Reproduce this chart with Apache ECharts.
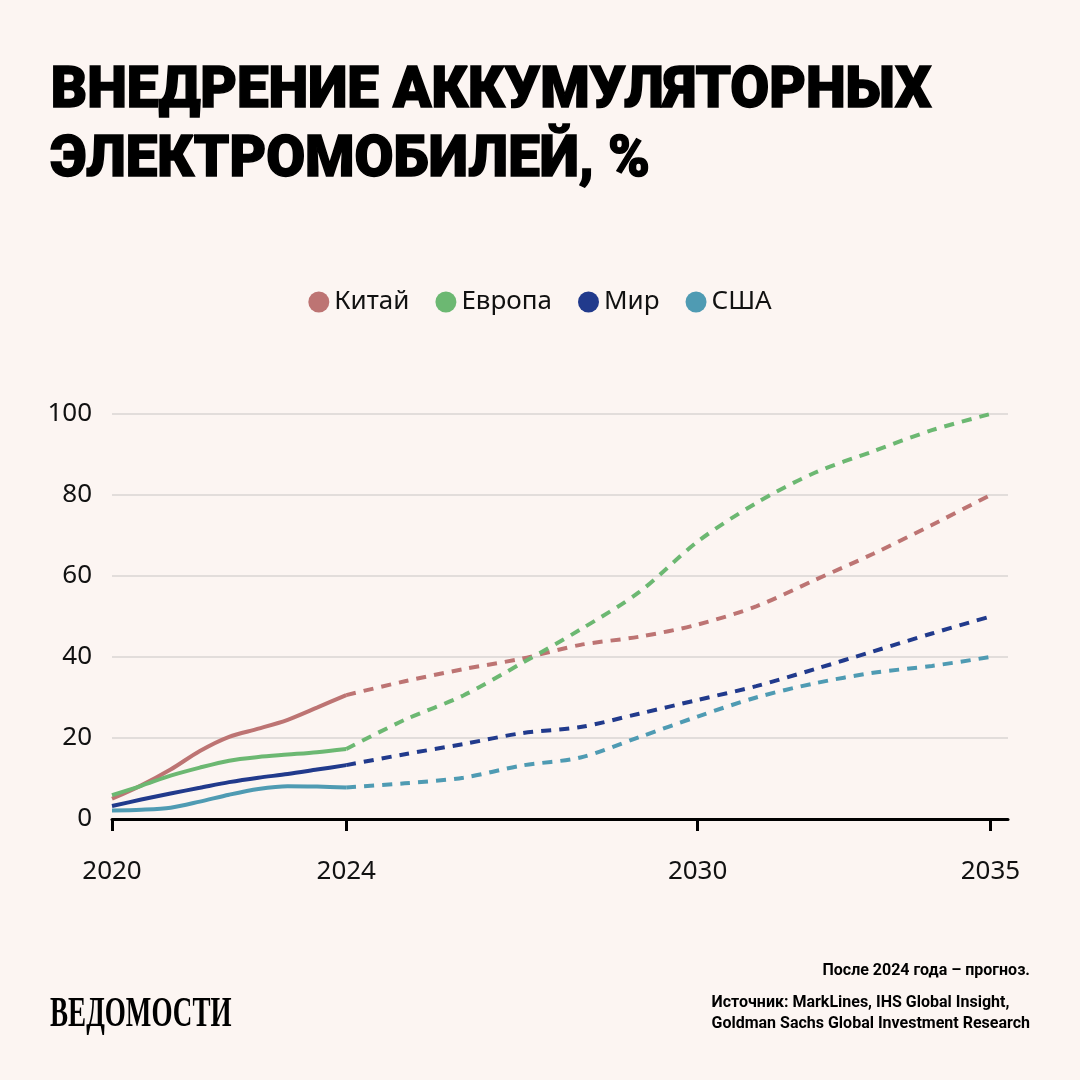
<!DOCTYPE html>
<html>
<head>
<meta charset="utf-8">
<script src="https://cdn.jsdelivr.net/npm/echarts@6/dist/echarts.min.js"></script>
<style>
  html, body { margin: 0; padding: 0; background: #fcf5f2; }
  #chart { width: 1080px; height: 1080px; }
</style>
</head>
<body>
<div id="chart"></div>
<script>
// данные: до 2024 — факт (по полугодиям), после — прогноз
const histYears = [2020, 2020.5, 2021, 2021.5, 2022, 2022.5, 2023, 2023.5, 2024]
const forecastYears = [2024, 2025, 2026, 2027, 2028, 2029, 2030, 2031, 2032, 2033, 2034, 2035]

const chinaHist = [5, 8.3, 12.2, 16.8, 20.3, 22.3, 24.5, 27.5, 30.6]
const europeHist = [5.9, 8.2, 10.7, 12.7, 14.4, 15.3, 15.9, 16.5, 17.3]
const worldHist = [3.2, 4.8, 6.3, 7.7, 9.1, 10.2, 11.1, 12.2, 13.3]
const usaHist = [2.1, 2.3, 2.8, 4.3, 6, 7.4, 8.1, 8, 7.8]

const chinaForecast = [30.6, 34, 37, 39.6, 43, 45, 48, 52.5, 59, 65.5, 72.6, 80]
const europeForecast = [17.3, 24.5, 30.5, 38.5, 46.8, 56, 68.5, 78, 85.5, 90.8, 96, 100]
const worldForecast = [13.3, 16, 18.5, 21.2, 22.7, 26, 29.4, 32.8, 37, 41.4, 45.8, 50]
const usaForecast = [7.8, 8.8, 10.2, 13.2, 15.2, 20.2, 25.3, 30, 33.5, 36.1, 37.8, 40]

const seriesNames = ['Китай', 'Европа', 'Мир', 'США']
const seriesColors = ['#bd7473', '#6cb872', '#213a8c', '#4f9bb3']
const xTicks = [2020, 2024, 2030, 2035]

const histData = [chinaHist, europeHist, worldHist, usaHist]
const forecastData = [chinaForecast, europeForecast, worldForecast, usaForecast]

const pair = (xs, ys) => xs.map((x, i) => [x, ys[i]])

const chartInstance = echarts.init(document.getElementById('chart'))

const series = []
seriesNames.forEach((name, i) => {
  // сплошная линия — фактические данные
  series.push({
    name: name,
    type: 'line',
    smooth: 0.3,
    symbol: 'none',
    color: seriesColors[i],
    lineStyle: { width: 4, color: seriesColors[i] },
    data: pair(histYears, histData[i]),
    z: 3
  })
  // пунктир — прогноз
  series.push({
    name: name,
    type: 'line',
    smooth: 0.3,
    symbol: 'none',
    color: seriesColors[i],
    lineStyle: { width: 4, type: [10, 8], color: seriesColors[i] },
    data: pair(forecastYears, forecastData[i]),
    z: 3
  })
})

const option = {
  backgroundColor: '#fcf5f2',
  animation: false,
  textStyle: { fontFamily: 'Noto Sans' },
  legend: {
    data: seriesNames,
    top: 284,
    left: 'center',
    icon: 'circle',
    itemWidth: 21,
    itemHeight: 21,
    itemGap: 26,
    textStyle: { fontSize: 26, color: '#111', fontFamily: 'Noto Sans' }
  },
  grid: {
    left: 112,
    right: 72,
    top: 414,
    bottom: 261
  },
  xAxis: {
    type: 'value',
    min: 2020,
    max: 2035.3,
    axisLine: { show: true, lineStyle: { color: '#000', width: 3 } },
    axisTick: {
      show: true,
      customValues: xTicks,
      length: 12,
      lineStyle: { color: '#000', width: 3 }
    },
    axisLabel: {
      customValues: xTicks,
      margin: 40,
      fontSize: 26,
      color: '#111',
      formatter: v => String(v)
    },
    splitLine: { show: false }
  },
  yAxis: {
    type: 'value',
    min: 0,
    max: 100,
    interval: 20,
    axisLine: { show: false },
    axisTick: { show: false },
    axisLabel: { margin: 20, fontSize: 26, color: '#111' },
    splitLine: { lineStyle: { color: '#e2dddb', width: 2 } }
  },
  graphic: [
    {
      type: 'text',
      left: 50,
      top: 58,
      scaleX: 0.99,
      style: {
        text: 'ВНЕДРЕНИЕ АККУМУЛЯТОРНЫХ\nЭЛЕКТРОМОБИЛЕЙ, %',
        font: '900 57px Roboto',
        lineHeight: 69,
        fill: '#000',
        stroke: '#000',
        lineWidth: 1.5
      }
    },
    {
      type: 'text',
      left: 50,
      top: 994,
      scaleX: 0.645,
      style: {
        text: 'ВЕДОМОСТИ',
        font: 'bold 42px "Liberation Serif"',
        fill: '#000'
      }
    },
    {
      type: 'text',
      right: 50,
      top: 963,
      style: {
        text: 'После 2024 года – прогноз.',
        font: 'bold 16px Roboto',
        fill: '#000',
        align: 'right'
      }
    },
    {
      type: 'text',
      right: 50,
      top: 992,
      style: {
        text: 'Источник: MarkLines, IHS Global Insight,\nGoldman Sachs Global Investment Research',
        font: 'bold 16px Roboto',
        lineHeight: 21,
        fill: '#000',
        align: 'right'
      }
    }
  ],
  series: series
}

chartInstance.setOption(option)
</script>
</body>
</html>
